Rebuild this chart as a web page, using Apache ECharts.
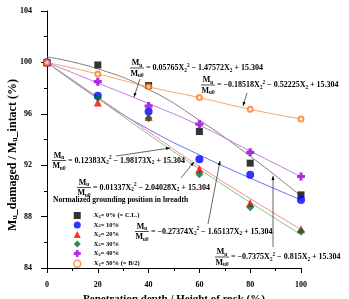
<!DOCTYPE html>
<html>
<head>
<meta charset="utf-8">
<script src="https://cdn.jsdelivr.net/npm/echarts@6/dist/echarts.min.js"></script>
<style>
  html, body { margin: 0; padding: 0; background: #fff; }
  #main { width: 349px; height: 299px; }
</style>
</head>
<body>
<div id="main"></div>
<script>
// penetration depth / height of rock (%)
var depth = [0, 20, 40, 60, 80, 100];

// measured points, one list per breadth position
var x0  = [100, 99.8, 98.2, 94.62, 92.16, 89.69];
var x10 = [100, 97.4, 96.17, 92.47, 91.25, 89.3];
var x20 = [100, 96.87, 95.75, 91.71, 89.05, 87.02];
var x30 = [100, 97.25, 95.65, 91.3, 88.73, 86.84];
var x40 = [100, 98.5, 96.6, 95.19, 93.0, 91.12];
var x50 = [100, 99.1, 98.1, 97.26, 96.35, 95.6];

// fitted curves
var fit0  = [100.43, 99.5, 97.9, 95.5, 92.7, 89.6];
var fit10 = [100, 97.2, 94.8, 92.8, 91.0, 89.3];
var fit20 = [100, 97.3, 94.6, 91.9, 89.4, 87.0];
var fit30 = [100, 97.2, 94.4, 91.7, 89.1, 86.6];
var fit40 = [100, 98.4, 96.8, 95.1, 93.1, 91.1];
var fit50 = [100, 99.1, 98.1, 97.26, 96.35, 95.6];

var names = ['X{s|2}= 0% (= C.L.)', 'X{s|2}= 10%', 'X{s|2}= 20%', 'X{s|2}= 30%', 'X{s|2}= 40%', 'X{s|2}= 50% (= B/2)'];

var equations = [
  '= 0.05765X{s|2}{p|2} − 1.47572X{s|2} + 15.304',
  '= −0.18518X{s|2}{p|2} − 0.52225X{s|2} + 15.304',
  '= 0.12383X{s|2}{p|2} − 1.98173X{s|2} + 15.304',
  '= 0.01337X{s|2}{p|2} − 2.04028X{s|2} + 15.304',
  '= −0.27374X{s|2}{p|2} − 1.65137X{s|2} + 15.304',
  '= −0.7375X{s|2}{p|2} − 0.815X{s|2} + 15.304'
];

function pairs(arr) {
  return depth.map(function (d, i) { return [d, arr[i]]; });
}

var serif = 'Liberation Serif';
var plus = 'path://M3,0H7V3H10V7H7V10H3V7H0V3H3Z';

function fitLine(arr, color) {
  return {
    type: 'line', data: pairs(arr), smooth: true, showSymbol: false, silent: true,
    lineStyle: { color: color, width: 1 }, z: 1
  };
}
function pts(name, arr, symbol, size, style) {
  return {
    type: 'scatter', name: name, data: pairs(arr), symbol: symbol, symbolSize: size,
    itemStyle: style, z: 3
  };
}

function richSet(size) {
  return {
    s: { fontFamily: serif, fontWeight: 'bold', fontSize: size * 0.65, verticalAlign: 'bottom', color: '#000' },
    p: { fontFamily: serif, fontWeight: 'bold', fontSize: size * 0.65, verticalAlign: 'top', color: '#000' }
  };
}

// annotation placement (pixels)
var notes = [
  { fx: 137, fy: 68,    ex: 146, a: [140, 79],  b: [134, 97] },
  { fx: 208, fy: 85,    ex: 217, a: [247, 93],  b: [243, 106] },
  { fx: 59,  fy: 160.5, ex: 68,  a: [116, 156], b: [170, 148] },
  { fx: 84,  fy: 187.5, ex: 93,  a: [181, 178], b: [194, 162] },
  { fx: 142, fy: 231.5, ex: 151, a: [208, 224], b: [220, 161] },
  { fx: 222, fy: 257,   ex: 231, a: [273, 247], b: [273, 176] }
];

var graphics = [];
notes.forEach(function (n, i) {
  var base = { fontFamily: serif, fontWeight: 'bold', fontSize: 8, fill: '#000', verticalAlign: 'middle', lineHeight: 10 };
  graphics.push({ type: 'text', x: n.fx, y: n.fy - 5, z: 10,
    style: Object.assign({}, base, { text: 'M{s|u}', align: 'center', rich: richSet(8) }) });
  graphics.push({ type: 'line', z: 10, shape: { x1: n.fx - 7, y1: n.fy, x2: n.fx + 7, y2: n.fy },
    style: { stroke: '#000', lineWidth: 0.7 } });
  graphics.push({ type: 'text', x: n.fx, y: n.fy + 5.5, z: 10,
    style: Object.assign({}, base, { text: 'M{s|u0}', align: 'center', rich: richSet(8) }) });
  graphics.push({ type: 'text', x: n.ex, y: n.fy, z: 10,
    style: Object.assign({}, base, { text: equations[i], align: 'left', rich: richSet(8) }) });
  // arrow
  var dx = n.b[0] - n.a[0], dy = n.b[1] - n.a[1];
  var len = Math.sqrt(dx * dx + dy * dy);
  var ux = dx / len, uy = dy / len;
  graphics.push({ type: 'line', z: 10, shape: { x1: n.a[0], y1: n.a[1], x2: n.b[0], y2: n.b[1] },
    style: { stroke: '#000', lineWidth: 0.6 } });
  graphics.push({ type: 'polygon', z: 10, shape: { points: [
      [n.b[0], n.b[1]],
      [n.b[0] - ux * 4 - uy * 1.5, n.b[1] - uy * 4 + ux * 1.5],
      [n.b[0] - ux * 4 + uy * 1.5, n.b[1] - uy * 4 - ux * 1.5]
    ] }, style: { fill: '#000' } });
});
graphics.push({ type: 'text', x: 53, y: 200, z: 10,
  style: { text: 'Normalized grounding position in breadth', fontFamily: serif, fontWeight: 'bold', fontSize: 7.5,
    fill: '#000', verticalAlign: 'middle' } });
// y axis title
graphics.push({ type: 'text', x: 13, y: 155, rotation: Math.PI / 2, z: 10,
  style: { text: 'M{s|u}_damaged / M{s|u}_intact (%)', fontFamily: serif, fontWeight: 'bold', fontSize: 12,
    fill: '#000', align: 'center', verticalAlign: 'middle',
    rich: { s: { fontFamily: serif, fontWeight: 'bold', fontSize: 8, verticalAlign: 'bottom', color: '#000' } } } });

var legendData = names.map(function (nm, i) {
  return i === 5 ? { name: nm, itemStyle: { borderWidth: 1.5 } } : { name: nm };
});

var chart = echarts.init(document.getElementById('main'));
chart.setOption({
  animation: false,
  backgroundColor: '#fff',
  grid: { left: 47, right: 48, top: 11, bottom: 31, outerBoundsMode: 'none', containLabel: false },
  legend: {
    orient: 'vertical', left: 68, top: 207, itemWidth: 7, itemHeight: 7, itemGap: 2.5,
    data: legendData,
    textStyle: { fontFamily: serif, fontSize: 6.5, fontWeight: 'bold', color: '#000', padding: [0, 0, 0, 8],
      rich: { s: { fontFamily: serif, fontWeight: 'bold', fontSize: 4.5, verticalAlign: 'bottom', color: '#000' } } }
  },
  xAxis: {
    type: 'value', min: 0, max: 100, interval: 20,
    name: 'Penetration depth / Height of rock (%)', nameLocation: 'middle', nameGap: 21,
    nameTextStyle: { fontFamily: serif, fontSize: 11, fontWeight: 'bold', color: '#000' },
    axisLine: { lineStyle: { color: '#000', width: 1 } },
    axisTick: { length: 5, lineStyle: { color: '#000' } },
    minorTick: { show: true, splitNumber: 2, length: 3, lineStyle: { color: '#000' } },
    splitLine: { show: false },
    axisLabel: { fontFamily: serif, fontSize: 8, fontWeight: 'bold', color: '#000', margin: 13 }
  },
  yAxis: {
    type: 'value', min: 84, max: 104, interval: 4,
    axisLine: { show: true, lineStyle: { color: '#000', width: 1 } },
    axisTick: { show: true, length: 6, lineStyle: { color: '#000' } },
    minorTick: { show: true, splitNumber: 2, length: 3, lineStyle: { color: '#000' } },
    splitLine: { show: false },
    axisLabel: { fontFamily: serif, fontSize: 8, fontWeight: 'bold', color: '#000', margin: 15 }
  },
  graphic: graphics,
  series: [
    fitLine(fit0, '#808080'),
    fitLine(fit10, '#6b6bf5'),
    fitLine(fit20, '#f58a8a'),
    fitLine(fit30, '#7cc48a'),
    fitLine(fit40, '#c47ae6'),
    fitLine(fit50, '#f7a466'),
    pts(names[0], x0, 'rect', 7, { color: '#000' }),
    pts(names[1], x10, 'circle', 8, { color: '#0000ff' }),
    pts(names[2], x20, 'triangle', 8, { color: '#ff0000' }),
    pts(names[3], x30, 'diamond', 8, { color: '#006b35' }),
    pts(names[4], x40, plus, 8, { color: '#9a00d6' }),
    pts(names[5], x50, 'circle', 5, { color: '#fff', borderColor: '#ff7a1a', borderWidth: 2 })
  ]
});
</script>
</body>
</html>
